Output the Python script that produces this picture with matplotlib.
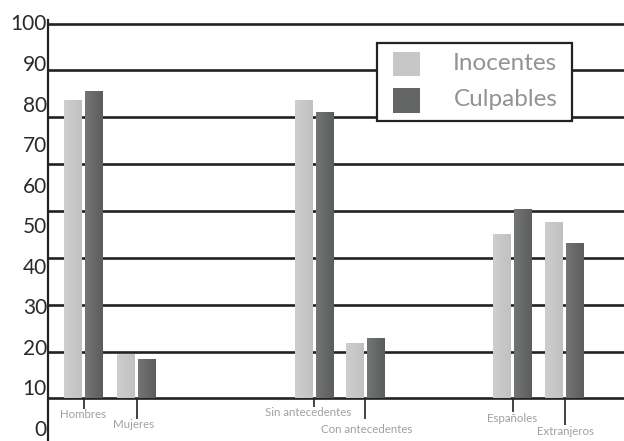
"""
Inocentes vs culpables bar chart
"""

import numpy as np
import matplotlib
matplotlib.use('Agg')
import matplotlib.pyplot as plt
from matplotlib.patches import Rectangle

# data
categories = ['Hombres', 'Mujeres', 'Sin antecedentes', 'Con antecedentes',
              'Españoles', 'Extranjeros']
inocentes = [80.6, 18.0, 80.6, 20.7, 47.7, 50.6]
culpables = [82.9, 16.8, 77.7, 21.9, 53.8, 45.4]
series_names = ['Inocentes', 'Culpables']
yticks = list(range(0, 101, 10))

# layout (category positions, grid lines, label drops)
xpos = [0, 1.02, 4.43, 5.42, 8.25, 9.25]
baseline = 7.3
grid_vals = baseline + 11.55 * np.arange(9)
label_y = [3.45, 0.86, 3.8, -0.25, 2.3, -0.86]
tick_end = [4.7, 2.2, 5.2, 2.2, 3.9, 0.74]
label_dx = [0, -0.05, -0.1, 0.02, 0, 0.02]

c_ino = '#c8c7c7'
c_cul = '#646665'
c_line = '#222222'
c_txt = '#a0a0a0'
fam = ['Lato', 'DejaVu Sans']

plt.close('all')
fig = plt.figure(figsize=(6.24, 4.41), dpi=100)
ax = fig.add_axes([48.3/624, 0, 1 - 48.3/624, 1 - 20/441])
ax.set_xlim(-0.677, 10.394)
ax.set_ylim(-3.2, 100.6)

for g in grid_vals:
    ax.axhline(g, color=c_line, linewidth=1.9, zorder=1)

w = 0.34
off = 0.202


def grad_bar(x0, top, col_l, col_r):
    # bar with a soft horizontal gradient
    ax.bar(x0, top - baseline, width=w, bottom=baseline, color=col_l,
           zorder=3, linewidth=0)
    cl = np.array(matplotlib.colors.to_rgb(col_l))
    cr = np.array(matplotlib.colors.to_rgb(col_r))
    t = np.linspace(0, 1, 32)[None, :, None]
    img = cl * (1 - t) + cr * t
    ax.imshow(img, extent=[x0 - w/2, x0 + w/2, baseline, top],
              aspect='auto', zorder=4, interpolation='bilinear')


for i in range(len(categories)):
    grad_bar(xpos[i] - off, inocentes[i], '#cfcece', '#c2c1c1')
    grad_bar(xpos[i] + off, culpables[i], '#737574', '#5c5e5d')
    ax.plot([xpos[i], xpos[i]], [baseline, tick_end[i]], color=c_line,
            linewidth=1.2, zorder=2, solid_capstyle='butt')
    ax.text(xpos[i] + label_dx[i], label_y[i], categories[i], ha='center',
            va='center', fontsize=8.3, color=c_txt, family=fam)

ax.set_xlim(-0.677, 10.394)
ax.set_ylim(-3.2, 100.6)

for s in ['top', 'right', 'bottom']:
    ax.spines[s].set_visible(False)
ax.spines['left'].set_linewidth(1.6)
ax.spines['left'].set_color(c_line)
ax.set_xticks([])
ax.set_yticks(yticks)
ax.set_yticklabels([str(v) for v in yticks], fontsize=15, color='#2a2a2a',
                   family=fam)
ax.tick_params(axis='y', length=0, pad=1)

# legend box drawn by hand (figure pixel coords)
W, H = 624.0, 441.0
fig.patches.append(Rectangle((377/W, 1 - 121/H), 195/W, 78.5/H,
                             transform=fig.transFigure, facecolor='white',
                             edgecolor=c_line, linewidth=1.6, zorder=10))
fig.patches.append(Rectangle((393/W, 1 - 75.7/H), 27/W, 24/H,
                             transform=fig.transFigure, facecolor=c_ino,
                             edgecolor='none', zorder=11))
fig.patches.append(Rectangle((393/W, 1 - 112.7/H), 27/W, 24.4/H,
                             transform=fig.transFigure, facecolor=c_cul,
                             edgecolor='none', zorder=11))
fig.text(557/W, 1 - 64/H, series_names[0], ha='right', va='center',
         fontsize=17.5, color='#939393', family=fam, zorder=12)
fig.text(558/W, 1 - 100/H, series_names[1], ha='right', va='center',
         fontsize=17.5, color='#939393', family=fam, zorder=12)

fig.savefig('out.png', dpi=100)
